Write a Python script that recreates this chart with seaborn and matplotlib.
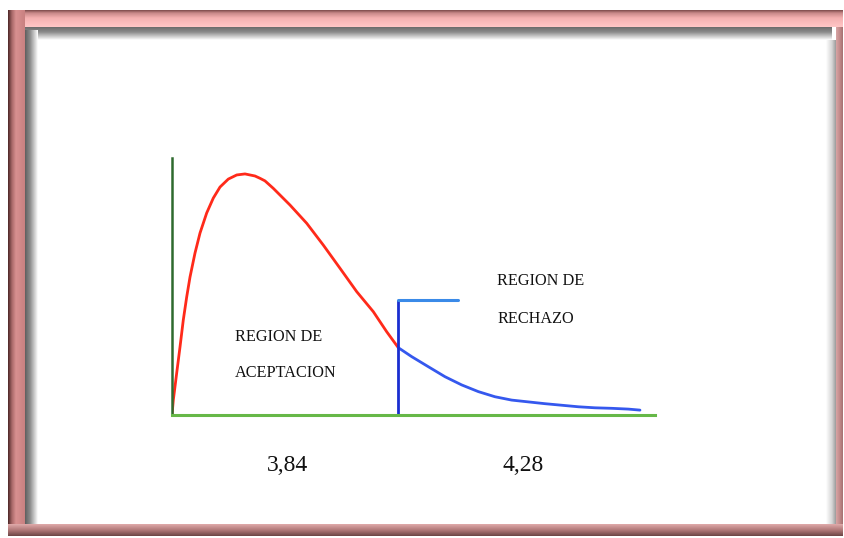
import matplotlib
matplotlib.use("Agg")
import matplotlib.pyplot as plt
from matplotlib.patches import Rectangle
import numpy as np
import pandas as pd
import seaborn as sns

# ---- data (x axis 0..10, y axis 0..1) ----
accept_x = [0.00, 0.027, 0.097, 0.166, 0.234, 0.304, 0.373, 0.476, 0.580, 0.718, 0.855,
            0.994, 1.166, 1.340, 1.511, 1.718, 1.822, 1.925, 2.097, 2.443, 2.789, 3.133,
            3.478, 3.824, 4.168, 4.445, 4.685]
accept_y = [0.000, 0.058, 0.163, 0.265, 0.370, 0.459, 0.537, 0.630, 0.708, 0.786, 0.844,
            0.887, 0.918, 0.934, 0.938, 0.930, 0.921, 0.911, 0.882, 0.817, 0.746, 0.661,
            0.571, 0.480, 0.402, 0.324, 0.262]
reject_x = [4.685, 4.963, 5.306, 5.652, 5.998, 6.342, 6.687, 7.033, 7.377, 7.723, 8.068,
            8.412, 8.758, 9.104, 9.447, 9.689]
reject_y = [0.262, 0.227, 0.188, 0.149, 0.117, 0.091, 0.071, 0.058, 0.051, 0.044, 0.038,
            0.032, 0.028, 0.026, 0.023, 0.019]
critical_x = 4.685
critical_top = 0.447
flag_end = 5.92
label_accept = ["REGION DE", "ACEPTACION"]
label_reject = ["REGION DE", "RECHAZO"]
value_labels = ["3,84", "4,28"]

sns.set_theme(style="white")
plt.rcParams['font.family'] = ['Liberation Serif', 'DejaVu Serif']

W, H = 844, 538
fig = plt.figure(figsize=(W / 100, H / 100), dpi=100)
fig.patch.set_facecolor("white")

# ---- bevelled frame (decoration) ----
bg = fig.add_axes([0, 0, 1, 1], zorder=0)
bg.set_xlim(0, W)
bg.set_ylim(H, 0)
bg.axis("off")


def hexrgb(h):
    h = h.lstrip("#")
    return np.array([int(h[i:i + 2], 16) / 255 for i in (0, 2, 4)])


def band(stops, horizontal, start, span0, span1):
    """stops: list of (offset, color); draws 1px strips."""
    offs = [s[0] for s in stops]
    cols = [hexrgb(s[1]) for s in stops]
    for k in range(offs[0], offs[-1]):
        c = np.array([np.interp(k + 0.5, offs, [cc[i] for cc in cols]) for i in range(3)])
        if horizontal:
            bg.add_patch(Rectangle((span0, start + k), span1 - span0, 1.05, color=c, lw=0))
        else:
            bg.add_patch(Rectangle((start + k, span0), 1.05, span1 - span0, color=c, lw=0))


# shadows
band([(0, "#6a6a6a"), (5, "#8a8a8a"), (13, "#ffffff")], True, 27, 25, 832)
band([(0, "#5e5e5e"), (5, "#8a8a8a"), (13, "#ffffff")], False, 25, 30, 524)
band([(0, "#ffffff"), (6, "#d4d4d4"), (10, "#9a9a9a")], False, 826, 40, 524)
# bevel bands
band([(0, "#7a4848"), (3, "#c88888"), (8, "#f4b0b0"), (17, "#ffc6c6")], True, 10, 8, 843)
band([(0, "#4a2424"), (4, "#a86868"), (8, "#d89090"), (17, "#c88080")], False, 8, 10, 536)
band([(0, "#d8a4a4"), (4, "#c08888"), (7, "#a47070")], False, 836, 27, 536)
band([(0, "#e0aaaa"), (6, "#b07878"), (12, "#6a4444")], True, 524, 8, 843)

# ---- chart ----
ax = fig.add_axes([172 / W, 123 / H, 483 / W, 257 / H], zorder=2)
ax.set_facecolor("none")
df_a = pd.DataFrame({"x": accept_x, "y": accept_y})
df_r = pd.DataFrame({"x": reject_x, "y": reject_y})
sns.lineplot(data=df_a, x="x", y="y", ax=ax, color="#ff2a1a", lw=2.0, sort=False,
             solid_capstyle="round", solid_joinstyle="round")
sns.lineplot(data=df_r, x="x", y="y", ax=ax, color="#3558ee", lw=2.0, sort=False,
             solid_capstyle="round", solid_joinstyle="round")
ax.plot([critical_x, critical_x], [0, critical_top], color="#1a2ed0", lw=2.0,
        solid_capstyle="butt")
ax.plot([critical_x, flag_end], [critical_top, critical_top], color="#3a8ae8", lw=2.2,
        solid_capstyle="round")

ax.set_xlim(0, 10)
ax.set_ylim(0, 1)
ax.set_xticks([])
ax.set_yticks([])
ax.set_xlabel("")
ax.set_ylabel("")
for s in ("top", "right"):
    ax.spines[s].set_visible(False)
ax.spines["left"].set_color("#2e6a2e")
ax.spines["left"].set_linewidth(1.8)
ax.spines["bottom"].set_color("#66b848")
ax.spines["bottom"].set_linewidth(2.2)

tk = dict(fontsize=11.7, color="#111111", ha="left", va="center", clip_on=False)
ax.text(1.30, 0.303, label_accept[0], **tk)
ax.text(1.30, 0.163, label_accept[1], **tk)
ax.text(6.73, 0.521, label_reject[0], **tk)
ax.text(6.73, 0.374, label_reject[1], **tk)
vk = dict(fontsize=17, color="#111111", ha="left", va="center", clip_on=False)
ax.text(1.97, -0.198, value_labels[0], **vk)
ax.text(6.85, -0.198, value_labels[1], **vk)

fig.savefig("out.png", dpi=100, facecolor="white")
